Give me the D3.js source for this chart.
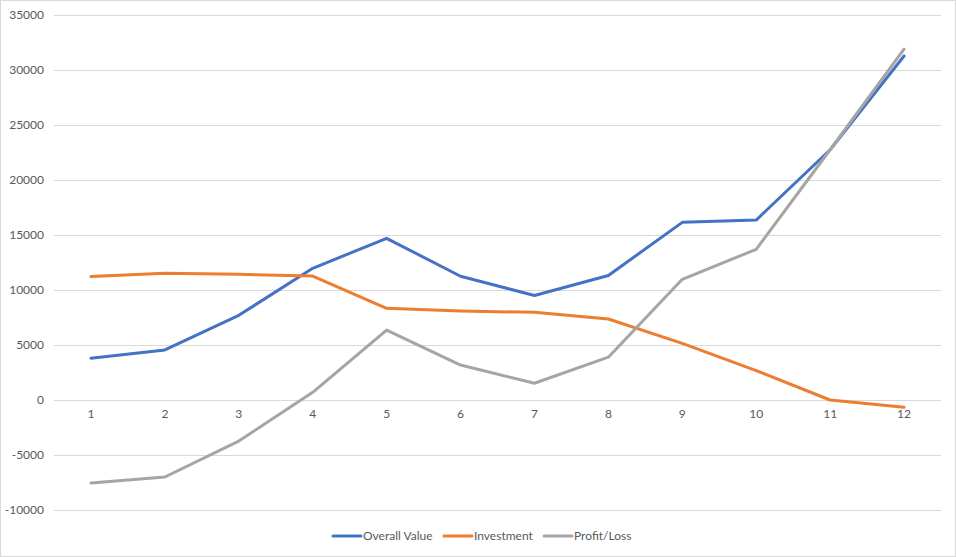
<!DOCTYPE html>
<html>
<head>
<meta charset="utf-8">
<script src="https://cdn.jsdelivr.net/npm/d3@7"></script>
<style>
  body { margin: 0; background: #fff; }
  #chart { width: 956px; height: 557px; }
</style>
</head>
<body>
<div id="chart"></div>
<script>
// Data
const periods = ['1', '2', '3', '4', '5', '6', '7', '8', '9', '10', '11', '12'];
const overallValue = [3800, 4550, 7700, 11970, 14700, 11250, 9500, 11320, 16150, 16360, 22750, 31270];
const investment = [11220, 11520, 11430, 11270, 8340, 8090, 7970, 7360, 5150, 2670, 0, -660];
const profitLoss = [-7550, -7000, -3730, 700, 6360, 3180, 1520, 3890, 10970, 13700, 22750, 31900];
const yTicks = [-10000, -5000, 0, 5000, 10000, 15000, 20000, 25000, 30000, 35000];

const seriesList = [
    { name: 'Overall Value', values: overallValue, color: '#4472C4' },
    { name: 'Investment', values: investment, color: '#ED7D31' },
    { name: 'Profit/Loss', values: profitLoss, color: '#A5A5A5' }
];

const width = 956;
const height = 557;
const margin = { top: 15, right: 15, bottom: 47, left: 54 };
const textColor = '#595959';
const gridColor = '#D9D9D9';
const font = 'Lato, "Open Sans", sans-serif';

const svg = d3.select('#chart').append('svg')
    .attr('width', width)
    .attr('height', height);

// Chart border
svg.append('rect')
    .attr('x', 0.5).attr('y', 0.5)
    .attr('width', width - 1).attr('height', height - 1)
    .attr('fill', '#fff')
    .attr('stroke', gridColor);

const x = d3.scaleBand()
    .domain(periods)
    .range([margin.left, width - margin.right]);

const y = d3.scaleLinear()
    .domain([-10000, 35000])
    .range([height - margin.bottom, margin.top]);

// Gridlines
svg.append('g')
    .selectAll('line')
    .data(yTicks)
    .enter()
    .append('line')
    .attr('x1', margin.left)
    .attr('x2', width - margin.right)
    .attr('y1', d => Math.round(y(d)) + 0.5)
    .attr('y2', d => Math.round(y(d)) + 0.5)
    .attr('stroke', gridColor)
    .attr('stroke-width', 1);

// Y axis labels
const yAxis = svg.append('g')
    .attr('transform', `translate(${margin.left - 10},0)`)
    .call(d3.axisLeft(y).tickValues(yTicks).tickSize(0).tickPadding(0).tickFormat(d => String(d)));
yAxis.select('.domain').remove();
yAxis.selectAll('text')
    .style('fill', textColor)
    .style('font-family', font)
    .style('font-size', '12px');

// X axis labels, placed along the zero line
const xAxis = svg.append('g')
    .attr('transform', `translate(0,${y(0)})`)
    .call(d3.axisBottom(x).tickSize(0).tickPadding(9));
xAxis.select('.domain').remove();
xAxis.selectAll('text')
    .style('fill', textColor)
    .style('font-family', font)
    .style('font-size', '12px');

// Lines
const line = d3.line()
    .x((d, i) => x(periods[i]) + x.bandwidth() / 2)
    .y(d => y(d));

seriesList.forEach(s => {
    svg.append('path')
        .datum(s.values)
        .attr('fill', 'none')
        .attr('stroke', s.color)
        .attr('stroke-width', 3)
        .attr('stroke-linejoin', 'round')
        .attr('stroke-linecap', 'round')
        .attr('d', line);
});

// Legend
const legendX = [333, 444, 544];
const legend = svg.append('g')
    .attr('transform', 'translate(0,536)');

seriesList.forEach((s, i) => {
    const item = legend.append('g')
        .attr('transform', `translate(${legendX[i]},0)`);
    item.append('line')
        .attr('x1', 0).attr('x2', 28)
        .attr('y1', 0).attr('y2', 0)
        .attr('stroke', s.color)
        .attr('stroke-width', 3)
        .attr('stroke-linecap', 'round');
    item.append('text')
        .attr('x', 30)
        .attr('y', 4)
        .style('fill', textColor)
        .style('font-family', font)
        .style('font-size', '12px')
        .text(s.name);
});
</script>
</body>
</html>
